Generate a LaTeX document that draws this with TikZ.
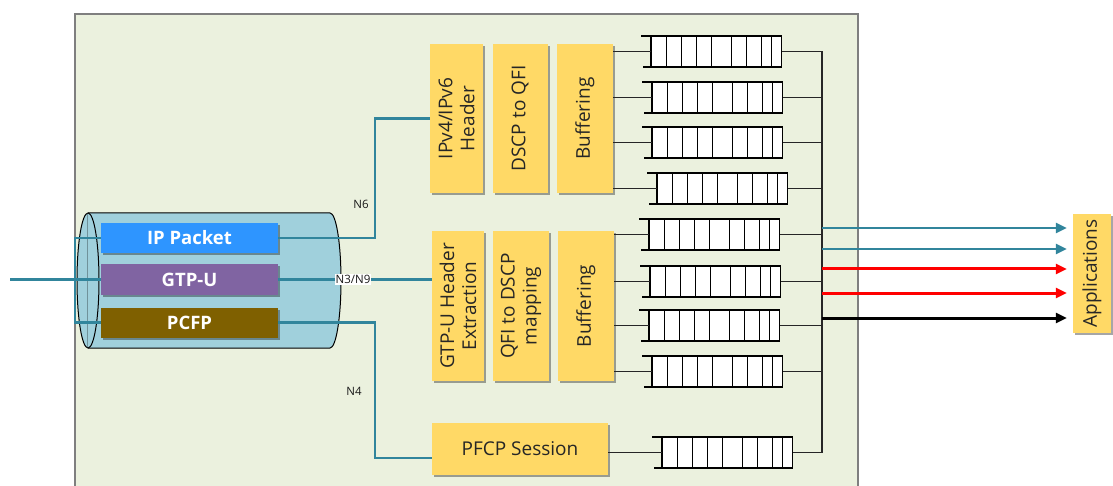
\documentclass[tikz,border=0pt]{standalone}
\usepackage{fontspec}
\setmainfont{Open Sans}
\usetikzlibrary{arrows.meta,shadows}

\definecolor{panel}{HTML}{EBF1DE}
\definecolor{panelline}{HTML}{7F7F7F}
\definecolor{tube}{HTML}{A0D0DC}
\definecolor{link}{HTML}{31859C}
\definecolor{stage}{HTML}{FFD966}
\definecolor{ipblue}{HTML}{2E95FF}
\definecolor{gtpviolet}{HTML}{8064A2}
\definecolor{pfcpbrown}{HTML}{7F6000}
\definecolor{wire}{HTML}{262626}

\tikzset{
  stagebox/.style={rectangle, fill=stage, draw=none, inner sep=0pt,
    drop shadow={shadow xshift=2pt, shadow yshift=-2pt, opacity=0.35, fill=black}},
  stagetext/.style={font=\fontsize{19}{22}\selectfont, text=black!85, align=center, rotate=90},
  barbox/.style={rectangle, draw=none, inner sep=0pt, minimum width=177pt, minimum height=30pt,
    text=white, font=\bfseries\fontsize{18.5}{20}\selectfont,
    drop shadow={shadow xshift=2pt, shadow yshift=-2pt, opacity=0.35, fill=black}},
  queuebox/.style={rectangle, draw=black, fill=white, line width=1.2pt, inner sep=0pt,
    outer sep=0pt, minimum width=130.7pt, minimum height=31pt},
  linkline/.style={draw=link, line width=2.6pt},
  wireline/.style={draw=wire, line width=1.3pt},
  iflabel/.style={font=\fontsize{11.5}{13}\selectfont, text=black!90, inner sep=1pt},
  flow/.style={line width=2.6pt, -{Triangle[length=11pt,width=10pt]}},
}

% a queue: name, left x, top y
\newcommand\qbuf[3]{%
  \node[queuebox, anchor=north west] (#1) at (#2,#3) {};
  \foreach \o in {15.3,30.3,45.7,60.7,80.7,95.7,110.7,120.7}
    \draw[black, line width=1.1pt] ([xshift=\o pt]#1.north west) -- ([xshift=\o pt]#1.south west);
  \draw[black, line width=1.2pt] ([xshift=-10pt]#1.north west) -- (#1.north west);
  \draw[black, line width=1.2pt] ([xshift=-8pt]#1.south west) -- (#1.south west);
}

\begin{document}
\begin{tikzpicture}[x=1pt, y=-1pt]
\useasboundingbox (0,0) rectangle (1113,486);
\clip (0,0) rectangle (1113,486);

% user plane function panel
\draw[fill=panel, draw=panelline, line width=2pt] (75,14) rectangle (858,500);

% tunnel cylinder
\fill[tube] (88,213) -- (330,213) arc[start angle=90, end angle=-90, x radius=11pt, y radius=67.5pt] -- (88,348) -- cycle;
\draw[black, line width=1pt] (88,213) -- (330,213) arc[start angle=90, end angle=-90, x radius=11pt, y radius=67.5pt] -- (88,348);
\draw[fill=tube, draw=black, line width=1pt] (88,280.5) ellipse [x radius=11pt, y radius=67.5pt];
\draw[tube!70!black, line width=0.6pt] (87.5,214) -- (87.5,347);

% packet types in the tunnel
\node[barbox, fill=ipblue] (ip) at (189.5,238) {IP Packet};
\node[barbox, fill=gtpviolet] (gtp) at (189.5,279.5) {GTP-U};
\node[barbox, fill=pfcpbrown] (pcfp) at (189.5,322.5) {PCFP};

% processing stages
\node[stagebox, minimum width=53pt, minimum height=149pt] (hdr1) at (456.5,118.5) {};
\node[stagetext] at (hdr1) {IPv4/IPv6\\Header};
\node[stagebox, minimum width=55pt, minimum height=149pt] (map1) at (520,118.5) {};
\node[stagetext] at (map1) {DSCP to QFI};
\node[stagebox, minimum width=56pt, minimum height=149pt] (buf1) at (585,118.5) {};
\node[stagetext] at (buf1) {Buffering};

\node[stagebox, minimum width=52pt, minimum height=150pt] (hdr2) at (458,306) {};
\node[stagetext] at (hdr2) {GTP-U Header\\Extraction};
\node[stagebox, minimum width=56pt, minimum height=150pt] (map2) at (521,306) {};
\node[stagetext] at (map2) {QFI to DSCP\\mapping};
\node[stagebox, minimum width=56pt, minimum height=150pt] (buf2) at (586,306) {};
\node[stagetext] at (buf2) {Buffering};

\node[stagebox, minimum width=176pt, minimum height=52pt, font=\fontsize{19}{22}\selectfont, text=black!85] (pfcps) at (520,449) {PFCP Session};

\node[stagebox, minimum width=38pt, minimum height=119pt] (apps) at (1092,273.5) {};
\node[stagetext] at (apps) {Applications};

% queues
\qbuf{q1}{651}{36}
\qbuf{q2}{652}{82}
\qbuf{q3}{652}{127}
\qbuf{q4}{657}{173}
\qbuf{q5}{649}{219}
\qbuf{q6}{650}{266}
\qbuf{q7}{649}{310}
\qbuf{q8}{652}{356}
\qbuf{q9}{662}{437}

% interface links
\coordinate (in) at (10,279.5);
\coordinate (n6) at (375,0);
\coordinate (n4) at (375,458);
\draw[linkline] (in) -- (gtp.west);
\draw[linkline] (ip.west) -- ++(-26,0) |- (pcfp.west);
\draw[linkline] (ip.east) -| (n6 |- hdr1.west) -- (hdr1.west);
\draw[linkline] (gtp.east) -- (gtp.east -| hdr2.west);
\draw[linkline] (pcfp.east) -| (n4) -- (n4 -| pfcps.west);

\node[iflabel] (lab6) at (361,204) {N6};
\node[iflabel, fill=white] (lab39) at (353,279.5) {N3/N9};
\node[iflabel] (lab4) at (354,391) {N4};

% buffering to queues
\foreach \q in {q1,q2,q3,q4} \draw[wireline] (\q.west -| buf1.east) -- (\q.west);
\foreach \q in {q5,q6,q7,q8} \draw[wireline] (\q.west -| buf2.east) -- (\q.west);
\draw[wireline] (q9.west -| pfcps.east) -- (q9.west);

% queues to the output bus
\coordinate (bus) at (822,0);
\foreach \q in {q1,q2,q3,q4,q5,q6,q7,q8,q9} \draw[wireline] (\q.east) -- (\q.east -| bus);
\draw[wireline] (q1.east -| bus) -- (q9.east -| bus);

% flows to the applications
\coordinate (appin) at ([xshift=-6pt]apps.west);
\draw[flow, link] (bus |- 0,228) -- (appin |- 0,228);
\draw[flow, link] (bus |- 0,249) -- (appin |- 0,249);
\draw[flow, red, line width=3pt] (bus |- 0,269) -- (appin |- 0,269);
\draw[flow, red, line width=3pt] (bus |- 0,293) -- (appin |- 0,293);
\draw[flow, black, line width=3pt] (bus |- 0,318) -- (appin |- 0,318);
\end{tikzpicture}
\end{document}
